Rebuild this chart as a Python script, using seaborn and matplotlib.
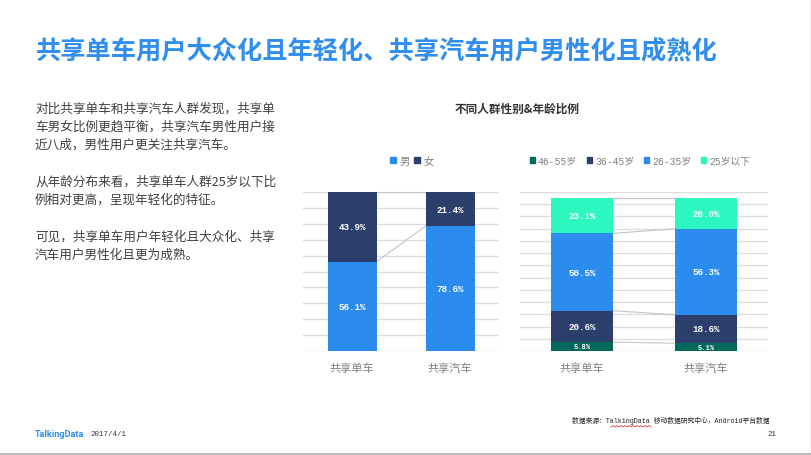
import numpy as np
import pandas as pd
import matplotlib
matplotlib.use("Agg")
import matplotlib.pyplot as plt
from matplotlib.lines import Line2D
from matplotlib.patches import Patch
import seaborn as sns

# --- data ---
categories = ['共享单车', '共享汽车']
gender_names = ['男', '女']
male = [56.1, 78.6]
female = [43.9, 21.4]
age_names = ['46-55岁', '36-45岁', '26-35岁', '25岁以下']
age_46_55 = [5.8, 5.1]
age_36_45 = [20.6, 18.6]
age_26_35 = [50.5, 56.3]
age_under_25 = [23.1, 20.0]

title = '共享单车用户大众化且年轻化、共享汽车用户男性化且成熟化'
chart_title = '不同人群性别&年龄比例'
# \uff0c is the full-width comma, \uff1a the full-width colon
body_lines = [
    (109.5, '对比共享单车和共享汽车人群发现\uff0c共享单'),
    (127.5, '车男女比例更趋平衡\uff0c共享汽车男性用户接'),
    (145.5, '近八成\uff0c男性用户更关注共享汽车。'),
    (182.5, '从年龄分布来看\uff0c共享单车人群25岁以下比'),
    (200.5, '例相对更高\uff0c呈现年轻化的特征。'),
    (237.5, '可见\uff0c共享单车用户年轻化且大众化、共享'),
    (255.5, '汽车用户男性化且更为成熟。'),
]
source = '数据来源\uff1aTalkingData 移动数据研究中心\uff0cAndroid平台数据'

BLUE = '#2B8CEE'
NAVY = '#2C3E6B'
TEAL = '#00675B'
MINT = '#2CF7C0'
GRID = '#DDDDDD'
LINK = '#C4C4C4'
W, H = 811, 456
MONO = ['Liberation Mono', 'Noto Sans CJK SC']

sns.set_theme(style='white')
plt.rcParams['font.family'] = ['Noto Sans CJK SC', 'DejaVu Sans']

fig = plt.figure(figsize=(W / 100, H / 100), dpi=100, facecolor='white')


def px_text(x, y, s, **kw):
    # place text using pixel coordinates of the slide
    kw.setdefault('va', 'center')
    return fig.text(x / W, 1 - y / H, s, **kw)


def make_axes(x0, x1, y0, y1):
    return fig.add_axes([x0 / W, 1 - y1 / H, (x1 - x0) / W, (y1 - y0) / H])


def stacked(ax, series, colors, ymax, step, label_sizes):
    bottoms = np.zeros(len(categories))
    for i, (vals, col) in enumerate(zip(series, colors)):
        vals = np.array(vals)
        sns.barplot(x=categories, y=vals, bottom=bottoms, color=col, width=0.5,
                    saturation=1, linewidth=0, ax=ax, zorder=3)
        tops = bottoms + vals
        # connector between the two bars
        ax.plot([0.25, 0.75], tops, color=LINK, lw=0.8, zorder=2, clip_on=False)
        for j in range(len(categories)):
            ax.text(j, bottoms[j] + vals[j] / 2, f'{vals[j]:.1f}%', color='white',
                    ha='center', va='center', fontsize=label_sizes[i],
                    fontweight='bold', family=MONO, zorder=4)
        bottoms = tops
    ax.set_xlim(-0.5, 1.5)
    ax.set_ylim(0, ymax)
    ax.set_yticks(np.arange(0, ymax + 1, step))
    ax.grid(axis='y', color=GRID, lw=1)
    ax.set_axisbelow(True)
    ax.tick_params(axis='y', left=False, labelleft=False)
    ax.tick_params(axis='x', bottom=False, pad=2, labelsize=8, labelcolor='#808080')
    sns.despine(ax=ax, left=True, bottom=True)
    ax.set_xlabel('')
    ax.set_ylabel('')


# left chart: gender
ax1 = make_axes(303, 499, 193, 352)
stacked(ax1, [male, female], [BLUE, NAVY], 100, 10, [6.7, 6.7])

# right chart: age
ax2 = make_axes(520, 768, 193, 352)
stacked(ax2, [age_46_55, age_36_45, age_26_35, age_under_25],
        [TEAL, NAVY, BLUE, MINT], 104, 8, [5, 6.7, 6.7, 6.7])

# legends
leg_kw = dict(frameon=False, handlelength=0.55, handleheight=0.55, handletextpad=0.3,
              borderpad=0, borderaxespad=0, labelcolor='#808080')
ax1.legend(handles=[Patch(color=BLUE, label=gender_names[0]), Patch(color=NAVY, label=gender_names[1])],
           ncol=2, columnspacing=0.45, loc='center', prop={'size': 7.5},
           bbox_to_anchor=(412 / W, 1 - 161.5 / H), bbox_transform=fig.transFigure, **leg_kw)
ax2.legend(handles=[Patch(color=c, label=n) for c, n in zip([TEAL, NAVY, BLUE, MINT], age_names)],
           ncol=4, columnspacing=1.0, loc='center', prop={'size': 7, 'family': MONO},
           bbox_to_anchor=(640 / W, 1 - 161.5 / H), bbox_transform=fig.transFigure, **leg_kw)

# slide text
px_text(36, 51, title, fontsize=18.2, fontweight='bold', color='#2F8EF0')
px_text(517.5, 109.5, chart_title, fontsize=8.4, fontweight='bold', color='#333333', ha='center')
for y, line in body_lines:
    px_text(35, y, line, fontsize=9.1, color='#404040')

# footer
px_text(770, 421, source, fontsize=4.9, color='#222222', ha='right', family=MONO)
px_text(35, 435, 'TalkingData', fontsize=6.6, fontweight='bold', color='#2F8EF0', family='Roboto')
px_text(90, 435, '2017/4/1', fontsize=5.4, color='#333333', family=MONO)
px_text(776, 435, '21', fontsize=5.4, color='#333333', ha='right', family=MONO)

# spell-check squiggle under the source text and the slide edge
sx = np.arange(611, 652, 2)
sy = np.where(np.arange(len(sx)) % 2, 426.5, 428)
fig.add_artist(Line2D(sx / W, 1 - sy / H, color='#E0403A', lw=0.6))
fig.add_artist(Line2D([0, 1], [1 / H, 1 / H], color='#BBBBBB', lw=1.5))
fig.add_artist(Line2D([1 - 0.5 / W, 1 - 0.5 / W], [0, 1], color='#BBBBBB', lw=1))

fig.savefig('out.png', dpi=100)
